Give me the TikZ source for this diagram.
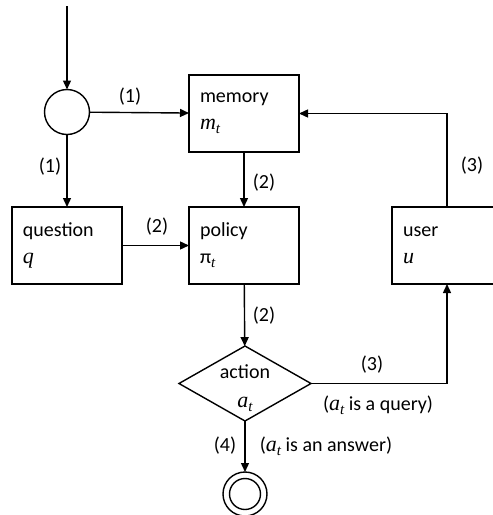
\documentclass[tikz,border=0pt]{standalone}
\usepackage{fontspec}
\setmainfont{Carlito}
\newfontfamily\varfont{Liberation Serif}[UprightFont=* Italic]
\newcommand{\var}[2]{{\varfont\fontsize{22}{26}\selectfont #1}\raisebox{-4pt}{\varfont\fontsize{15}{18}\selectfont #2}}
\newcommand{\vone}[1]{{\varfont\fontsize{22}{26}\selectfont #1}}
\usetikzlibrary{arrows.meta,shapes.geometric}
\begin{document}
\begin{tikzpicture}[x=1pt,y=-1pt,
  font=\fontsize{20}{27}\selectfont,
  every node/.style={inner sep=0pt, outer sep=0pt},
  box/.style={draw, line width=1.4pt, minimum width=110pt, minimum height=77pt,
    text width=88pt, align=left},
  flow/.style={line width=1.4pt, -{Triangle[length=9pt,width=8pt]}},
  lbl/.style={inner sep=1pt}]
\clip (0,0) rectangle (493,515);
\fill[white] (0,0) rectangle (493,515);

% entry point and split
\coordinate (start) at (67,6);
\node[draw, circle, line width=1.4pt, minimum size=45pt] (split) at (67,112) {};

% main boxes
\node[box] (mem) at (244,113.5) {memory\\\var{m}{t}};
\node[box] (que) at (67,245.5) {question\\\vone{q}};
\node[box] (pol) at (244,245.5) {policy\\π\raisebox{-4pt}{\varfont\fontsize{15}{18}\selectfont t}};
\node[box] (usr) at (447,245.5) {user\\\vone{u}};

% decision
\node[draw, diamond, line width=1.4pt, minimum width=132pt, minimum height=75pt] (act) at (245,383.5) {};
\node[align=center, font=\fontsize{20}{29}\selectfont] (actlbl) at (245,388) {action\\\var{a}{t}};

% final state
\node[draw, circle, line width=1.4pt, minimum size=44pt] (fin) at (245,494) {};
\node[draw, circle, line width=1.4pt, minimum size=31pt] (finin) at (fin) {};

% connectors
\draw[flow] (start) -- (split);
\draw[flow] (split) -- (mem);
\draw[flow] (split) -- (que);
\draw[flow] (mem) -- (pol);
\draw[flow] (que) -- (pol);
\draw[flow] (pol) -- (act);
\draw[flow] (usr.north) |- (mem.east);
\draw[flow] (act.east) -| (usr.south);
\draw[flow] (act.south) -- (fin.north);

% edge labels
\node[lbl] (l1a) at (130,97) {(1)};
\node[lbl] (l1b) at (50,167) {(1)};
\node[lbl] (l2a) at (264,183) {(2)};
\node[lbl] (l2b) at (157,227) {(2)};
\node[lbl] (l3a) at (472,166) {(3)};
\node[lbl] (l2c) at (264,316) {(2)};
\node[lbl] (l3b) at (372,365) {(3)};
\node[lbl] (lq) at (378,405) {(\var{a}{t} is a query)};
\node[lbl] (l4) at (225,446) {(4)};
\node[lbl] (la) at (326,446) {(\var{a}{t} is an answer)};
\end{tikzpicture}
\end{document}
